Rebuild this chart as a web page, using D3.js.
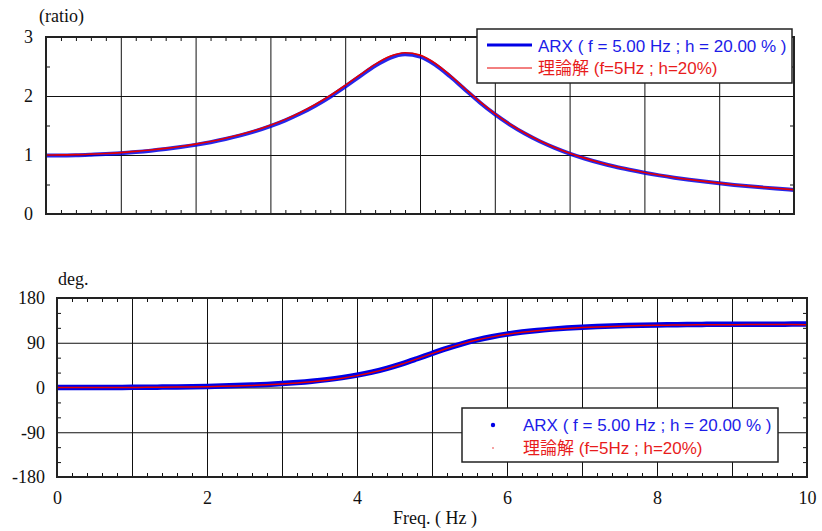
<!DOCTYPE html>
<html>
<head>
<meta charset="utf-8">
<script src="https://cdn.jsdelivr.net/npm/d3@7"></script>
<style>
  html, body { margin: 0; padding: 0; background: #fff; }
  svg { display: block; }
</style>
</head>
<body>
<svg id="chart" width="822" height="531"></svg>
<script>
// ---- data ----
const freq = [0,0.2,0.4,0.6,0.8,1.0,1.2,1.4,1.6,1.8,2.0,2.2,2.4,2.6,2.8,3.0,3.2,3.4,3.6,3.8,4.0,4.2,4.4,4.6,4.8,5.0,5.2,5.4,5.6,5.8,6.0,6.2,6.4,6.6,6.8,7.0,7.2,7.4,7.6,7.8,8.0,8.2,8.4,8.6,8.8,9.0,9.2,9.4,9.6,9.8,10.0];
const ampTheory = [1.000,1.002,1.006,1.015,1.026,1.041,1.061,1.084,1.112,1.145,1.184,1.230,1.284,1.346,1.419,1.505,1.604,1.720,1.855,2.008,2.180,2.361,2.536,2.672,2.733,2.693,2.555,2.353,2.127,1.905,1.703,1.526,1.373,1.241,1.128,1.031,0.947,0.874,0.810,0.754,0.704,0.660,0.620,0.585,0.553,0.524,0.497,0.473,0.451,0.431,0.412];
const ampARX = [0.990,0.992,0.996,1.005,1.016,1.031,1.050,1.073,1.101,1.134,1.172,1.217,1.270,1.332,1.404,1.489,1.588,1.703,1.836,1.988,2.158,2.338,2.512,2.647,2.706,2.668,2.533,2.334,2.111,1.891,1.691,1.516,1.364,1.233,1.121,1.024,0.941,0.868,0.804,0.749,0.699,0.655,0.616,0.581,0.549,0.520,0.493,0.469,0.447,0.427,0.408];
const phaseTheory = [0.0,0.0,0.0,0.0,0.1,0.2,0.3,0.5,0.8,1.2,1.7,2.3,3.1,4.2,5.4,7.1,9.1,11.6,14.8,18.8,23.9,30.2,38.0,47.1,57.5,68.2,78.5,87.7,95.5,101.8,106.9,110.9,114.2,116.7,118.8,120.5,121.8,122.9,123.8,124.5,125.1,125.5,125.9,126.1,126.3,126.4,126.5,126.5,126.5,126.5,126.4];
const phaseARX = [0.0,0.0,0.0,0.1,0.2,0.3,0.5,0.8,1.1,1.6,2.2,2.9,3.8,4.9,6.2,7.9,10.0,12.6,15.8,19.8,24.8,31.0,38.6,47.6,57.8,68.4,78.6,87.8,95.7,102.2,107.4,111.5,114.8,117.4,119.5,121.2,122.6,123.7,124.6,125.3,125.9,126.3,126.7,126.9,127.1,127.2,127.3,127.4,127.4,127.5,127.5];

const ampTicks = [0,1,2,3];
const ampMinor = [0.5,1.5,2.5];
const phaseTicks = [-180,-90,0,90,180];
const phaseMinor = [-150,-120,-60,-30,30,60,120,150];
const freqTicks = [0,2,4,6,8,10];
const freqGrid = [1,2,3,4,5,6,7,8,9];
const freqMinor = d3.range(0,10.001,0.2).map(v => +v.toFixed(1)).filter(v => Math.abs(v - Math.round(v)) > 1e-6);

const legendARX = "ARX ( f = 5.00 Hz ; h = 20.00 % )";
const legendTheory = "理論解 (f=5Hz ; h=20%)";

const BLUE = "#0000e6", RED = "#e60000";
const BLUE_TXT = "#1c1ce8", RED_TXT = "#e81c1c";
const SERIF = "'Liberation Serif','Times New Roman',serif";
const SANS = "'Liberation Sans',Arial,'Noto Sans CJK JP',sans-serif";

const svg = d3.select("#chart");

function panel(opt) {
  const {x0,x1,y0,y1,yDomain,yTicks,yMinor,labelX,id} = opt;
  const x = d3.scaleLinear().domain([0,10]).range([x0,x1]);
  const y = d3.scaleLinear().domain(yDomain).range([y1,y0]);
  const W = x1 - x0, H = y1 - y0;
  const g = svg.append("g");

  // vertical grid
  g.append("g").attr("transform",`translate(0,${y1})`)
    .call(d3.axisBottom(x).tickValues(freqGrid).tickSize(-H).tickFormat(""))
    .call(s => s.select(".domain").remove());
  // horizontal grid
  g.append("g").attr("transform",`translate(${x0},0)`)
    .call(d3.axisLeft(y).tickValues(yTicks.slice(1,-1)).tickSize(-W).tickFormat(""))
    .call(s => s.select(".domain").remove());

  // minor ticks (inside)
  const tk = 4;
  g.append("g").attr("transform",`translate(0,${y1})`)
    .call(d3.axisBottom(x).tickValues(freqMinor).tickSize(-tk).tickFormat(""))
    .call(s => s.select(".domain").remove());
  g.append("g").attr("transform",`translate(0,${y0})`)
    .call(d3.axisTop(x).tickValues(freqMinor).tickSize(-tk).tickFormat(""))
    .call(s => s.select(".domain").remove());
  g.append("g").attr("transform",`translate(${x0},0)`)
    .call(d3.axisLeft(y).tickValues(yMinor).tickSize(-tk).tickFormat(""))
    .call(s => s.select(".domain").remove());
  g.append("g").attr("transform",`translate(${x1},0)`)
    .call(d3.axisRight(y).tickValues(yMinor).tickSize(-tk).tickFormat(""))
    .call(s => s.select(".domain").remove());
  g.selectAll("line").attr("stroke","#111").attr("stroke-width",1);

  // y labels
  g.append("g").attr("transform",`translate(${x0},0)`)
    .call(d3.axisLeft(y).tickValues(yTicks).tickSize(0).tickPadding(opt.ypad).tickFormat(d => String(d)))
    .call(s => s.select(".domain").remove())
    .call(s => s.attr("font-family",null).attr("font-size",null))
    .call(s => s.selectAll("text").style("font-family",SERIF).style("font-size","18px").attr("fill","#111"));

  // x labels
  if (labelX) {
    g.append("g").attr("transform",`translate(0,${y1})`)
      .call(d3.axisBottom(x).tickValues(freqTicks).tickSize(0).tickPadding(14).tickFormat(d => String(d)))
      .call(s => s.select(".domain").remove())
      .call(s => s.attr("font-family",null).attr("font-size",null))
      .call(s => s.selectAll("text").style("font-family",SERIF).style("font-size","18px").attr("fill","#111"));
  }

  // clip
  svg.append("clipPath").attr("id",id).append("rect")
    .attr("x",x0).attr("y",y0).attr("width",W).attr("height",H);

  return {x,y,g,x0,x1,y0,y1,W,H};
}

// ---- top panel: amplitude ratio ----
const pTop = panel({x0:46,x1:794,y0:37,y1:214,yDomain:[0,3],yTicks:ampTicks,yMinor:ampMinor,labelX:false,id:"clipTop",ypad:13});
const lineTop = (vals) => d3.line().x((d,i)=>pTop.x(freq[i])).y(d=>pTop.y(d)).curve(d3.curveMonotoneX)(vals);
const cTop = svg.append("g").attr("clip-path","url(#clipTop)");
cTop.append("path").attr("d",lineTop(ampARX)).attr("fill","none").attr("stroke",BLUE).attr("stroke-width",4).attr("opacity",0.85);
cTop.append("path").attr("d",lineTop(ampTheory)).attr("fill","none").attr("stroke",RED).attr("stroke-width",1.6);
svg.append("rect").attr("x",pTop.x0).attr("y",pTop.y0).attr("width",pTop.W).attr("height",pTop.H)
  .attr("fill","none").attr("stroke","#222").attr("stroke-width",2);
svg.append("text").attr("x",39).attr("y",22).style("font-family",SERIF).style("font-size","18px").attr("fill","#111").text("(ratio)");

// top legend
{
  const lg = svg.append("g");
  lg.append("rect").attr("x",477).attr("y",29).attr("width",315).attr("height",54)
    .attr("fill","#fff").attr("stroke","#222").attr("stroke-width",1.5);
  lg.append("line").attr("x1",487).attr("x2",532).attr("y1",45).attr("y2",45).attr("stroke",BLUE).attr("stroke-width",3);
  lg.append("line").attr("x1",487).attr("x2",532).attr("y1",68).attr("y2",68).attr("stroke",RED).attr("stroke-width",1);
  lg.append("text").attr("x",538).attr("y",52).style("font-family",SANS).style("font-size","17px").attr("fill",BLUE_TXT).text(legendARX);
  lg.append("text").attr("x",538).attr("y",74).style("font-family",SANS).style("font-size","17px").attr("fill",RED_TXT).text(legendTheory);
}

// ---- bottom panel: phase ----
const pBot = panel({x0:57,x1:807,y0:298,y1:477,yDomain:[-180,180],yTicks:phaseTicks,yMinor:phaseMinor,labelX:true,id:"clipBot",ypad:12});
const lineBot = (vals) => d3.line().x((d,i)=>pBot.x(freq[i])).y(d=>pBot.y(d)).curve(d3.curveMonotoneX)(vals);
const cBot = svg.append("g").attr("clip-path","url(#clipBot)");
cBot.append("path").attr("d",lineBot(phaseARX)).attr("fill","none").attr("stroke",BLUE).attr("stroke-width",5.5).attr("stroke-linecap","round");
cBot.append("path").attr("d",lineBot(phaseTheory)).attr("fill","none").attr("stroke",RED).attr("stroke-width",1.5);
svg.append("rect").attr("x",pBot.x0).attr("y",pBot.y0).attr("width",pBot.W).attr("height",pBot.H)
  .attr("fill","none").attr("stroke","#222").attr("stroke-width",2);
svg.append("text").attr("x",58).attr("y",285).style("font-family",SERIF).style("font-size","18px").attr("fill","#111").text("deg.");
svg.append("text").attr("x",393).attr("y",524).style("font-family",SERIF).style("font-size","18px").attr("fill","#111").text("Freq. ( Hz )");

// bottom legend
{
  const lg = svg.append("g");
  lg.append("rect").attr("x",462).attr("y",408).attr("width",316).attr("height",54)
    .attr("fill","#fff").attr("stroke","#222").attr("stroke-width",1.5);
  lg.append("circle").attr("cx",493).attr("cy",425).attr("r",2.2).attr("fill",BLUE);
  lg.append("circle").attr("cx",493).attr("cy",448).attr("r",0.7).attr("fill",RED);
  lg.append("text").attr("x",523).attr("y",431).style("font-family",SANS).style("font-size","17px").attr("fill",BLUE_TXT).text(legendARX);
  lg.append("text").attr("x",523).attr("y",454).style("font-family",SANS).style("font-size","17px").attr("fill",RED_TXT).text(legendTheory);
}
</script>
</body>
</html>
